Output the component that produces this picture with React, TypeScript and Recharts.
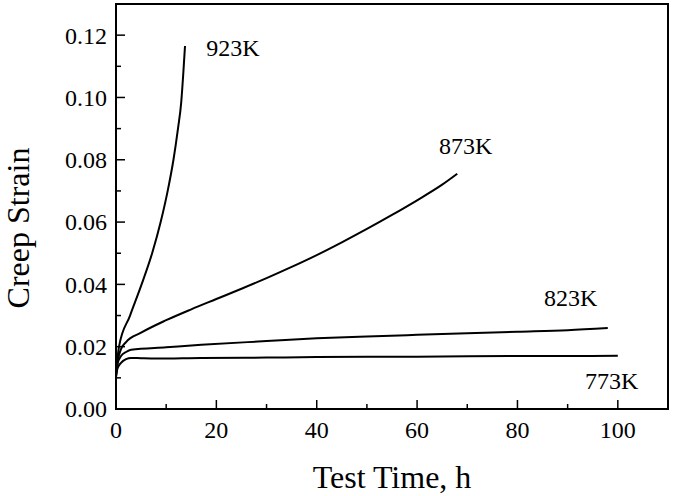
import { LineChart, Line, XAxis, YAxis, ReferenceArea, ReferenceDot } from 'recharts';

// Creep strain vs test time at four temperatures
const t923 = [0, 0.6, 2.8, 5.1, 7.2, 8.9, 10.3, 11.45, 12.35, 13.0, 13.4, 13.75];
const s923 = [0.012, 0.02, 0.03, 0.04, 0.05, 0.06, 0.07, 0.08, 0.09, 0.0985, 0.1075, 0.1165];

const t873 = [0, 0.3, 1, 2, 5, 10, 15, 20, 25, 30, 35, 40, 45, 50, 55, 60, 65, 68];
const s873 = [0.011, 0.015, 0.0192, 0.0215, 0.0245, 0.0285, 0.032, 0.0353, 0.0386, 0.042, 0.0456, 0.0494, 0.0535, 0.0578, 0.0623, 0.067, 0.072, 0.0755];

const t823 = [0, 0.3, 1, 2, 3, 10, 17, 30, 40, 50, 60, 70, 80, 90, 98];
const s823 = [0.01, 0.0145, 0.017, 0.0183, 0.019, 0.0198, 0.0206, 0.0218, 0.0227, 0.0233, 0.0238, 0.0243, 0.0248, 0.0253, 0.026];

const t773 = [0, 0.3, 1, 2, 3, 5, 8, 17, 30, 40, 50, 60, 70, 80, 90, 100];
const s773 = [0.0105, 0.013, 0.0148, 0.016, 0.0164, 0.0163, 0.0162, 0.0164, 0.0165, 0.0167, 0.0168, 0.0168, 0.0169, 0.017, 0.017, 0.0171];

// curve labels: text, x (h), y (strain)
const labelText = ['923K', '873K', '823K', '773K'];
const labelT = [23.3, 69.7, 90.6, 98.8];
const labelS = [0.116, 0.0845, 0.0358, 0.009];

const xTicks = [0, 10, 20, 30, 40, 50, 60, 70, 80, 90, 100];
const yTicks = [0, 0.01, 0.02, 0.03, 0.04, 0.05, 0.06, 0.07, 0.08, 0.09, 0.1, 0.11, 0.12];

const FONT = '"Liberation Serif", "Times New Roman", serif';

const toPoints = (ts: number[], ss: number[]) => ts.map((t, i) => ({ t, s: ss[i] }));

const series = [
  { name: '923K', data: toPoints(t923, s923) },
  { name: '873K', data: toPoints(t873, s873) },
  { name: '823K', data: toPoints(t823, s823) },
  { name: '773K', data: toPoints(t773, s773) },
];

function XTick(props: any) {
  const { x, y, payload } = props;
  const major = payload.value % 20 === 0;
  return (
    <g>
      <line x1={x} x2={x} y1={y} y2={y - (major ? 9 : 5)} stroke="#000" strokeWidth={1.5} />
      {major && (
        <text x={x} y={y + 29} textAnchor="middle" fontSize={24} fontFamily={FONT} fill="#000">
          {payload.value}
        </text>
      )}
    </g>
  );
}

function YTick(props: any) {
  const { x, y, payload } = props;
  const major = Math.round(payload.value * 100) % 2 === 0;
  return (
    <g>
      <line x1={x} x2={x + (major ? 9 : 5)} y1={y} y2={y} stroke="#000" strokeWidth={1.5} />
      {major && (
        <text x={x - 9} y={y} dy="0.35em" textAnchor="end" fontSize={24} fontFamily={FONT} fill="#000">
          {payload.value.toFixed(2)}
        </text>
      )}
    </g>
  );
}

export default function App() {
  return (
    <div style={{ width: 675, height: 496, background: '#fff' }}>
      <style>{'body{margin:0}'}</style>
      <LineChart width={675} height={496} margin={{ top: 4, right: 7, bottom: 0, left: 0 }}>
        <XAxis
          dataKey="t"
          type="number"
          domain={[0, 110]}
          ticks={xTicks}
          interval={0}
          allowDataOverflow
          height={87}
          tickSize={0}
          tickMargin={0}
          tickLine={false}
          axisLine={{ stroke: '#000', strokeWidth: 2 }}
          tick={<XTick />}
          label={{
            value: 'Test Time, h',
            position: 'insideBottom',
            offset: 8,
            fontSize: 32,
            fontFamily: FONT,
            fill: '#000',
          }}
        />
        <YAxis
          type="number"
          domain={[0, 0.13]}
          ticks={yTicks}
          interval={0}
          allowDataOverflow
          width={116}
          tickSize={0}
          tickMargin={0}
          tickLine={false}
          axisLine={{ stroke: '#000', strokeWidth: 2 }}
          tick={<YTick />}
          label={{
            content: () => (
              <text
                x={18}
                y={228}
                transform="rotate(-90, 18, 228)"
                textAnchor="middle"
                dominantBaseline="central"
                fontSize={32}
                fontFamily={FONT}
                fill="#000"
              >
                Creep Strain
              </text>
            ),
          }}
        />
        <ReferenceArea x1={0} x2={110} y1={0} y2={0.13} fill="none" stroke="#000" strokeWidth={2} ifOverflow="visible" />
        {series.map((s) => (
          <Line
            key={s.name}
            data={s.data}
            dataKey="s"
            type="monotone"
            stroke="#000"
            strokeWidth={2}
            dot={false}
            isAnimationActive={false}
          />
        ))}
        {labelText.map((txt, i) => (
          <ReferenceDot
            key={txt}
            x={labelT[i]}
            y={labelS[i]}
            r={0}
            fill="none"
            stroke="none"
            ifOverflow="visible"
            label={{ value: txt, position: 'center', fontSize: 24, fontFamily: FONT, fill: '#000' }}
          />
        ))}
      </LineChart>
    </div>
  );
}
